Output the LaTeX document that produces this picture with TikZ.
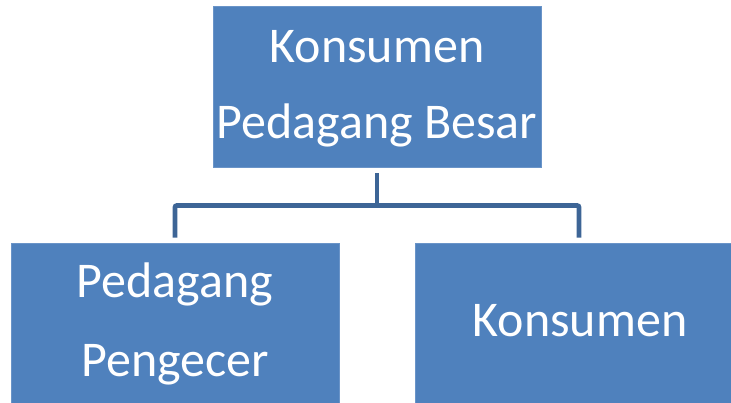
\documentclass[tikz,border=0pt]{standalone}
\usepackage{fontspec}
\setmainfont{Carlito}
\definecolor{boxblue}{HTML}{4F81BD}
\definecolor{boxedge}{HTML}{6A94C8}
\definecolor{linkblue}{HTML}{3D6596}
\tikzset{
  orgbox/.style={fill=boxblue, draw=boxedge, line width=0.6pt,
    minimum width=328pt, minimum height=161pt, inner sep=0pt},
  boxtext/.style={text=white, anchor=base, inner sep=0pt,
    font=\fontsize{50pt}{60pt}\selectfont},
  link/.style={draw=linkblue, line width=4.8pt},
}
\begin{document}
\begin{tikzpicture}[x=1pt,y=-1pt]
  \useasboundingbox (0,0) rectangle (731,403);
  \clip (0,0) rectangle (731,403);

  % boxes
  \node[orgbox] (top)   at (377,86.5)  {};
  \node[orgbox] (left)  at (175,323.5) {};
  \node[orgbox] (right) at (579,323.5) {};

  % labels
  \node[boxtext] (topA)   at (377,63)  {Konsumen};
  \node[boxtext] (topB)   at (377,139) {Pedagang Besar};
  \node[boxtext] (leftA)  at (175,298) {Pedagang};
  \node[boxtext] (leftB)  at (175,377) {Pengecer};
  \node[boxtext] (rightA) at (580,337) {Konsumen};

  % connectors
  \coordinate (mid) at (377,205.5);
  \draw[link, shorten <=6pt] (top.south) -- (mid);
  \draw[link, rounded corners=2pt, shorten <=5pt, shorten >=5pt]
    (left.north) -- (left.north |- mid) -- (right.north |- mid) -- (right.north);
\end{tikzpicture}
\end{document}
